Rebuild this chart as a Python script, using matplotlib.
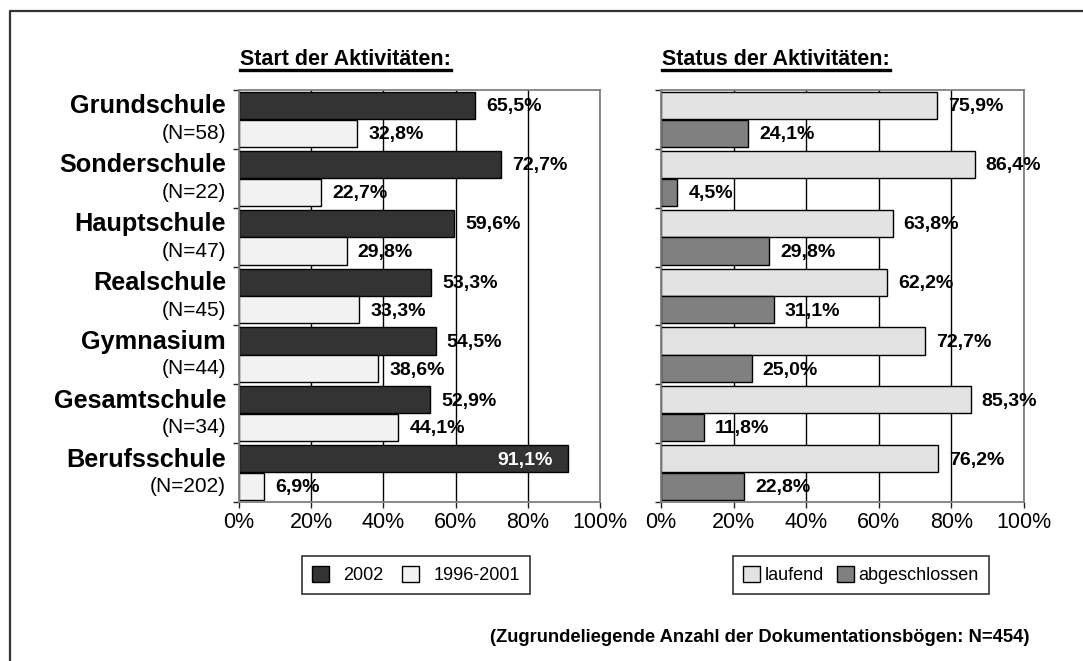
import matplotlib.pyplot as plt
import numpy as np
from matplotlib.patches import Patch
from matplotlib.lines import Line2D

plt.rcParams['font.family'] = ['Liberation Sans', 'DejaVu Sans']

# data
schools = ["Grundschule", "Sonderschule", "Hauptschule", "Realschule",
           "Gymnasium", "Gesamtschule", "Berufsschule"]
n_labels = ["(N=58)", "(N=22)", "(N=47)", "(N=45)", "(N=44)", "(N=34)", "(N=202)"]
start_2002 = [65.5, 72.7, 59.6, 53.3, 54.5, 52.9, 91.1]
start_old = [32.8, 22.7, 29.8, 33.3, 38.6, 44.1, 6.9]
laufend = [75.9, 86.4, 63.8, 62.2, 72.7, 85.3, 76.2]
abgeschlossen = [24.1, 4.5, 29.8, 31.1, 25.0, 11.8, 22.8]
xticks = [0, 20, 40, 60, 80, 100]

W, H = 1083, 661
fig = plt.figure(figsize=(W / 100, H / 100), dpi=100)

# frame around the chart (only left and top visible)
fig.add_artist(Line2D([10 / W, 10 / W, 1.0], [0, 1 - 11 / H, 1 - 11 / H],
                      transform=fig.transFigure, color='#333333', lw=1.6))

ax1 = fig.add_axes([239 / W, 1 - 502 / H, 361 / W, 412 / H])
ax2 = fig.add_axes([661 / W, 1 - 502 / H, 363 / W, 412 / H])

y = np.arange(len(schools))
bh = 0.46


def fmt(v):
    return f"{v:.1f}%".replace('.', ',')


def style_axis(ax):
    ax.set_xlim(0, 100)
    ax.set_ylim(len(schools) - 0.5, -0.5)
    ax.set_xticks(xticks)
    ax.set_xticklabels([f"{t}%" for t in xticks], fontsize=15.5)
    ax.set_yticks(np.arange(-0.5, len(schools) + 0.5, 1))
    ax.set_yticklabels([])
    ax.tick_params(axis='both', direction='out', length=4, width=1, color='#222222', pad=3)
    ax.xaxis.grid(True, color='black', lw=1.0)
    ax.set_axisbelow(True)
    for s in ax.spines.values():
        s.set_color('#808080')
        s.set_linewidth(1.3)


def bar_labels(ax, vals, ys):
    for v, yy in zip(vals, ys):
        if v > 90:
            ax.annotate(fmt(v), (v, yy), xytext=(-11, -1), textcoords='offset points',
                        ha='right', va='center', fontsize=14, fontweight='bold', color='white')
        else:
            ax.annotate(fmt(v), (v, yy), xytext=(8, -1), textcoords='offset points',
                        ha='left', va='center', fontsize=14, fontweight='bold', color='black')


# left: start of activities
style_axis(ax1)
ax1.barh(y - 0.235, start_2002, height=bh, color='#333333', edgecolor='black', lw=1)
ax1.barh(y + 0.235, start_old, height=bh, color='#f2f2f2', edgecolor='black', lw=1)
bar_labels(ax1, start_2002, y - 0.235)
bar_labels(ax1, start_old, y + 0.235)

for i in range(len(schools)):
    ax1.text(-0.036, i - 0.22, schools[i], transform=ax1.get_yaxis_transform(),
             ha='right', va='center', fontsize=18.2, fontweight='bold')
    ax1.text(-0.036, i + 0.24, n_labels[i], transform=ax1.get_yaxis_transform(),
             ha='right', va='center', fontsize=15)

# right: status of activities
style_axis(ax2)
ax2.barh(y - 0.235, laufend, height=bh, color='#e3e3e3', edgecolor='black', lw=1)
ax2.barh(y + 0.235, abgeschlossen, height=bh, color='#808080', edgecolor='black', lw=1)
bar_labels(ax2, laufend, y - 0.235)
bar_labels(ax2, abgeschlossen, y + 0.235)

# titles with underline
t1 = fig.text(240 / W, 1 - 65 / H, "Start der Aktivitäten:", fontsize=15.5,
              fontweight='bold', ha='left', va='baseline')
t2 = fig.text(662 / W, 1 - 65 / H, "Status der Aktivitäten:", fontsize=15.5,
              fontweight='bold', ha='left', va='baseline')
fig.canvas.draw()
r = fig.canvas.get_renderer()
for t in (t1, t2):
    bb = t.get_window_extent(r)
    uy = (H - 69.5) / H
    fig.add_artist(Line2D([bb.x0 / W, bb.x1 / W], [uy, uy], transform=fig.transFigure,
                          color='black', lw=2.4))

# legends
h1 = [Patch(facecolor='#333333', edgecolor='black', label='2002'),
      Patch(facecolor='#f2f2f2', edgecolor='black', label='1996-2001')]
leg1 = fig.legend(handles=h1, loc='center', bbox_to_anchor=(416 / W, 1 - 575 / H), ncol=2,
                  fontsize=13, frameon=True, fancybox=False, edgecolor='black',
                  handlelength=0.95, handleheight=0.95, handletextpad=0.8,
                  columnspacing=1.0, borderpad=0.55)
leg1.get_frame().set_linewidth(1.2)
h2 = [Patch(facecolor='#e3e3e3', edgecolor='black', label='laufend'),
      Patch(facecolor='#808080', edgecolor='black', label='abgeschlossen')]
leg2 = fig.legend(handles=h2, loc='center', bbox_to_anchor=(861 / W, 1 - 575 / H), ncol=2,
                  fontsize=13, frameon=True, fancybox=False, edgecolor='black',
                  handlelength=0.95, handleheight=0.95, handletextpad=0.25,
                  columnspacing=0.7, borderpad=0.55)
leg2.get_frame().set_linewidth(1.2)

fig.text(1030 / W, 1 - 638 / H, "(Zugrundeliegende Anzahl der Dokumentationsbögen: N=454)",
         ha='right', va='center', fontsize=13.2, fontweight='bold')

fig.savefig("out.png", dpi=100, facecolor='white')
